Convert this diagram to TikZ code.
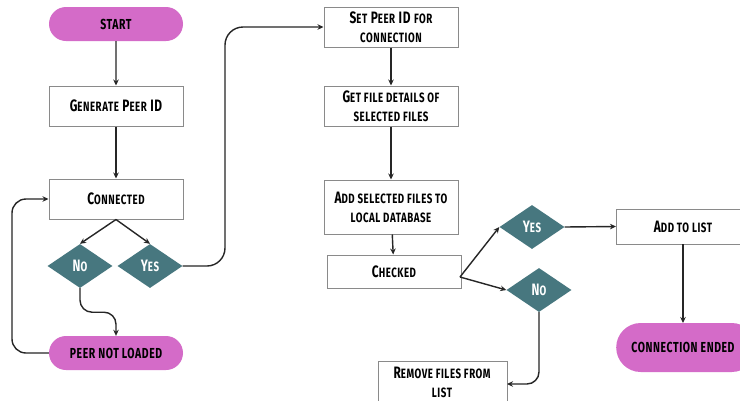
\documentclass[tikz,border=0pt]{standalone}
\usepackage{fontspec}
\setmainfont{Fira Sans}[FakeStretch=0.72, LetterSpace=4]
\usetikzlibrary{shapes.geometric,shapes.misc,arrows.meta}
\definecolor{pinkc}{HTML}{D46BC8}
\definecolor{tealc}{HTML}{47777F}
\definecolor{edgec}{HTML}{8A8A8A}
\newcommand\SC[1]{{\fontsize{13.5}{15}\selectfont\MakeUppercase{#1}}}
\begin{document}
\begin{tikzpicture}[x=1pt,y=-1pt,
  every node/.append style={font=\fontsize{16.5}{18}\selectfont\bfseries, align=center, inner sep=0pt},
  pill/.style={rounded rectangle, fill=pinkc, minimum width=134pt, minimum height=34pt, font=\fontsize{14.5}{16}\selectfont\bfseries},
  pilltext/.style={font=\fontsize{14.5}{16}\selectfont\bfseries},
  boxn/.style={draw=edgec, line width=1pt, fill=white, rectangle, minimum width=134pt, minimum height=40pt},
  dia/.style={diamond, fill=tealc, text=white, minimum width=65pt, minimum height=44pt, aspect=1.48, inner sep=0pt},
  arr/.style={-{Stealth[length=6pt,width=5.5pt]}, line width=1.4pt, draw=black!85}]
\useasboundingbox (0,0) rectangle (740,400);
\clip (0,0) rectangle (740,400);
\fill[white] (0,0) rectangle (740,400);
% left column
\node[pill] (start) at (116,24) {START};
\node[boxn] (gen) at (116,106) {G\SC{enerate} P\SC{eer} ID};
\node[boxn] (con) at (116,199) {C\SC{onnected}};
\node[dia] (no1) at (80,266) {N\SC{o}};
\node[dia] (yes1) at (150,266) {Y\SC{es}};
\node[pill] (pnl) at (116,353) {PEER NOT LOADED};
% middle column
\node[boxn] (set) at (391,27) {S\SC{et} P\SC{eer} ID \SC{for}\\[1pt]\SC{connection}};
\node[boxn] (get) at (391,106) {G\SC{et file details of}\\[1pt]\SC{selected files}};
\node[boxn, minimum height=54pt] (add) at (391,207) {A\SC{dd selected files to}\\[1pt]\SC{local database}};
\node[boxn, minimum height=33pt] (chk) at (394,271.5) {C\SC{hecked}};
\node[boxn, minimum width=129pt, minimum height=50pt, anchor=north west] (rem) at (378,361) {};
\node at (442,382) {R\SC{emove files from}\\[1pt]\SC{list}};
% right
\node[dia] (yes2) at (532,227) {Y\SC{es}};
\node[dia] (no2) at (539,290) {N\SC{o}};
\node[boxn, minimum height=35pt, anchor=west] (list) at (616,226.5) {};
\node at (683,226.5) {A\SC{dd to list}};
\node[pill, minimum height=49pt, minimum width=140pt, anchor=west] (end) at (616,347.5) {};
\node[pilltext] at (683,347.5) {CONNECTION ENDED};
% connectors
\draw[arr] (start) -- (gen);
\draw[arr] (gen) -- (con);
\draw[arr] (con.south) -- (no1.north);
\draw[arr] (con.south) -- (yes1.north);
\draw[arr, rounded corners=12pt] (no1.south) -- ++(0,24) -| (pnl.north);
\draw[arr, rounded corners=14pt] (pnl.west) -| (12,199) -- (con.west);
\draw[arr, rounded corners=18pt] (yes1.east) -| (225,27) -- (set.west);
\draw[arr] (set) -- (get);
\draw[arr] (get) -- (add);
\draw[arr] (add) -- (chk);
\coordinate (c1) at (460,277);
\draw[arr] (c1) -- (yes2.west);
\draw[arr] (c1) -- (no2.west);
\draw[arr] (yes2.east) -- (list.west);
\draw[arr] (683,244) -- (683,323);
\draw[arr, rounded corners=12pt] (no2.south) |- (507,384);
\end{tikzpicture}
\end{document}
